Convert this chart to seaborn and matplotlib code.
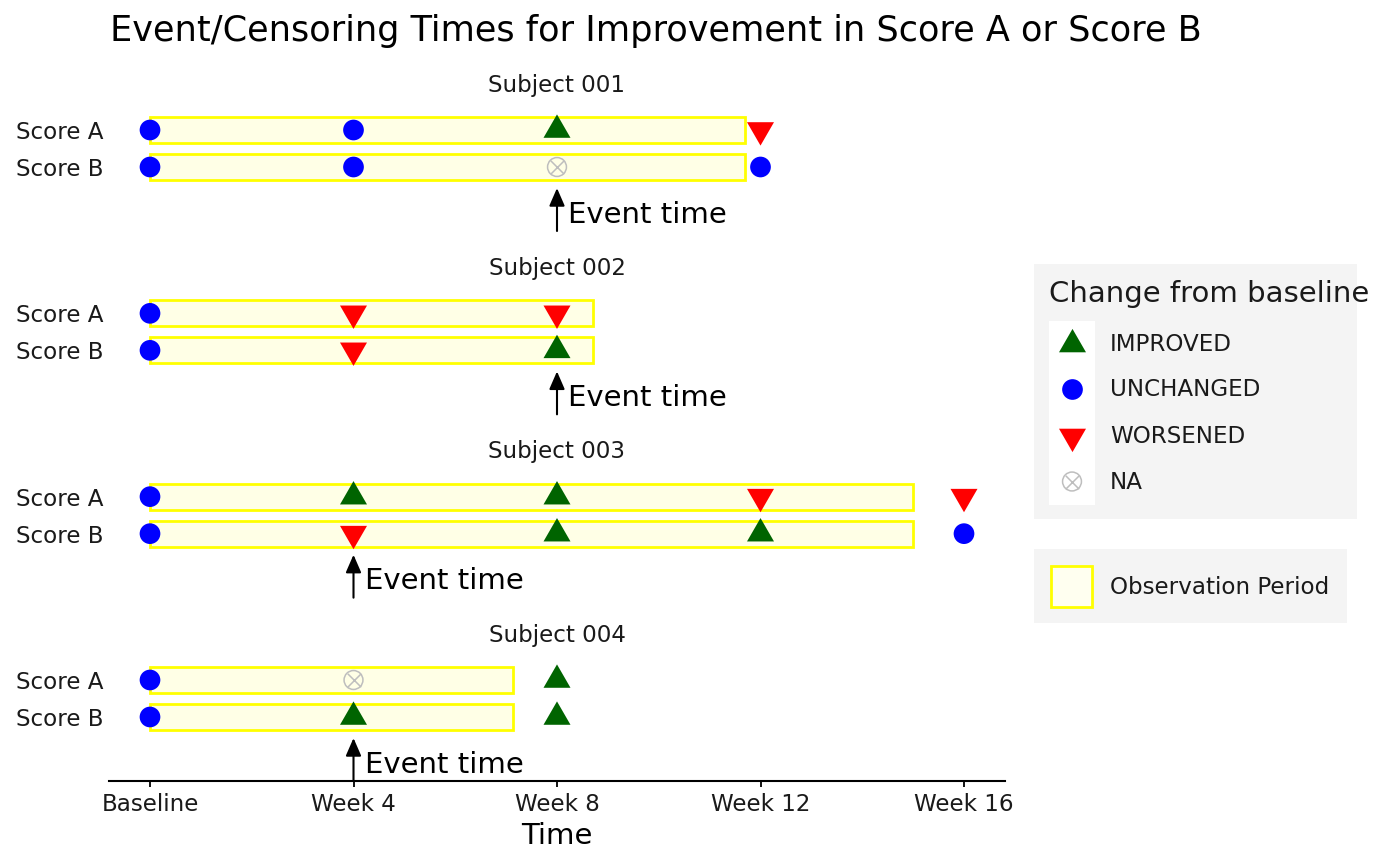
import numpy as np
import pandas as pd
import matplotlib.pyplot as plt
import seaborn as sns
from matplotlib.markers import MarkerStyle
from matplotlib.patches import Rectangle

# data
subjects = ['Subject 001', 'Subject 002', 'Subject 003', 'Subject 004']
scores = ['Score A', 'Score B']
weeks = [0, 4, 8, 12, 16]
week_labels = ['Baseline', 'Week 4', 'Week 8', 'Week 12', 'Week 16']

s001_a = ['UNCHANGED', 'UNCHANGED', 'IMPROVED', 'WORSENED']
s001_b = ['UNCHANGED', 'UNCHANGED', 'NA', 'UNCHANGED']
s002_a = ['UNCHANGED', 'WORSENED', 'WORSENED']
s002_b = ['UNCHANGED', 'WORSENED', 'IMPROVED']
s003_a = ['UNCHANGED', 'IMPROVED', 'IMPROVED', 'WORSENED', 'WORSENED']
s003_b = ['UNCHANGED', 'WORSENED', 'IMPROVED', 'IMPROVED', 'UNCHANGED']
s004_a = ['UNCHANGED', 'NA', 'IMPROVED']
s004_b = ['UNCHANGED', 'IMPROVED', 'IMPROVED']

obs_end = [11.7, 8.7, 15.0, 7.13]
event_week = [8, 8, 4, 4]

changes = ['IMPROVED', 'UNCHANGED', 'WORSENED', 'NA']
colors = {'IMPROVED': '#006400', 'UNCHANGED': '#0000FF',
          'WORSENED': '#FF0000', 'NA': '#BEBEBE'}

tri_up = [(0, 1), (-0.866, -0.5), (0.866, -0.5), (0, 1)]
tri_down = [(0, -1), (-0.866, 0.5), (0.866, 0.5), (0, -1)]
markers = {'IMPROVED': tri_up, 'UNCHANGED': 'o', 'WORSENED': tri_down}
sizes = {'IMPROVED': 504, 'UNCHANGED': 222, 'WORSENED': 504}

series = [[s001_a, s001_b], [s002_a, s002_b], [s003_a, s003_b], [s004_a, s004_b]]
rows = []
for subj, pair in zip(subjects, series):
    for k, vals in enumerate(pair):
        for w, c in zip(weeks, vals):
            rows.append((subj, scores[k], k, w, c))
df = pd.DataFrame(rows, columns=['subject', 'score', 'ypos', 'week', 'change'])

sns.set_theme(style='white')
plt.rcParams['font.family'] = ['DejaVu Sans']

W, H = 1400, 865
fig = plt.figure(figsize=(14, 8.65), dpi=100)

small = 16.6
medium = 21
txt = '#1a1a1a'
unit = 37.0
y_top, y_bot = -0.7, 2.73
pitch = 183.33
ax_left, ax_w = 109.3, 895.4

for i, subj in enumerate(subjects):
    top_px = 130 + y_top * unit + pitch * i
    h_px = (y_bot - y_top) * unit
    ax = fig.add_axes([ax_left / W, 1 - (top_px + h_px) / H, ax_w / W, h_px / H])
    d = df[df['subject'] == subj]

    # observation period
    ax.barh([0, 1], [obs_end[i]] * 2, left=0, height=0.7, color='#FFFFE6',
            edgecolor='#FFFF00', linewidth=2.0, zorder=1)

    obs = d[d['change'] != 'NA']
    sns.scatterplot(data=obs, x='week', y='ypos', hue='change', style='change',
                    size='change', palette=colors, markers=markers, sizes=sizes,
                    linewidth=0, legend=False, ax=ax, zorder=3)
    na = d[d['change'] == 'NA']
    ax.scatter(na['week'], na['ypos'], s=185, facecolors='none',
               edgecolors=colors['NA'], linewidths=1.1, zorder=3)
    ax.scatter(na['week'], na['ypos'], s=94, marker='x',
               color=colors['NA'], linewidths=1.1, zorder=3)

    # event time arrow
    ev = event_week[i]
    ax.annotate('', xy=(ev, 1.57), xytext=(ev, y_bot),
                arrowprops=dict(arrowstyle='-|>,head_length=0.54,head_width=0.235',
                                color='black', lw=1.5, mutation_scale=20,
                                shrinkA=0, shrinkB=0), annotation_clip=False)
    ax.annotate('Event time', xy=(ev, 2.29), xytext=(8, 0), textcoords='offset points',
                ha='left', va='center', fontsize=medium, color='black')

    ax.annotate(subj, xy=(0.5, 1), xycoords='axes fraction', xytext=(0, 13.7),
                textcoords='offset points', ha='center', va='center',
                fontsize=small, color=txt)

    ax.set_xlim(-0.8, 16.8)
    ax.set_ylim(y_bot, y_top)
    ax.set_yticks([0, 1])
    ax.set_yticklabels(scores)
    ax.tick_params(axis='y', length=0, pad=4.2, labelsize=small, labelcolor=txt)
    ax.set_ylabel('')
    for s in ['top', 'right', 'left']:
        ax.spines[s].set_visible(False)
    ax.patch.set_alpha(0)

    if i == len(subjects) - 1:
        ax.spines['bottom'].set_color('black')
        ax.spines['bottom'].set_linewidth(1.5)
        ax.set_xticks(weeks)
        ax.set_xticklabels(week_labels)
        ax.tick_params(axis='x', length=4.3, width=1.3, color='black', bottom=True,
                       pad=4.3, labelsize=small, labelcolor=txt)
        ax.set_xlabel('Time', fontsize=medium, color='black', labelpad=4)
    else:
        ax.spines['bottom'].set_visible(False)
        ax.set_xticks([])
        ax.set_xlabel('')

fig.text(656 / W, 1 - 41 / H, 'Event/Censoring Times for Improvement in Score A or Score B',
         ha='center', va='baseline', fontsize=25.3, color='black')

# legends, drawn in pixel space
lg = fig.add_axes([0, 0, 1, 1])
lg.set_xlim(0, W)
lg.set_ylim(H, 0)
lg.axis('off')
lg.add_patch(Rectangle((1034, 264), 323, 255, facecolor='#F4F4F4', edgecolor='none'))
lg.add_patch(Rectangle((1049, 321), 46, 184, facecolor='white', edgecolor='none'))
lg.text(1049, 294, 'Change from baseline', ha='left', va='center',
        fontsize=medium, color=txt)
key_y = [343.5, 389, 435.5, 481.5]
for c, yk in zip(changes, key_y):
    if c == 'NA':
        lg.scatter([1072], [yk], s=185, facecolors='none', edgecolors=colors[c],
                   linewidths=1.1)
        lg.scatter([1072], [yk], s=94, marker='x', color=colors[c], linewidths=1.1)
    else:
        lg.scatter([1072], [yk], s=sizes[c], marker=MarkerStyle(markers[c]),
                   color=colors[c], linewidths=0)
    lg.text(1110, yk + 1, c, ha='left', va='center', fontsize=small, color=txt)

lg.add_patch(Rectangle((1034, 549), 313, 74, facecolor='#F4F4F4', edgecolor='none'))
lg.add_patch(Rectangle((1051, 566), 41, 41, facecolor='#FFFFF0', edgecolor='#FFFF00',
                       linewidth=2.0))
lg.text(1110, 588, 'Observation Period', ha='left', va='center', fontsize=small, color=txt)

fig.savefig('out.png', dpi=100)
